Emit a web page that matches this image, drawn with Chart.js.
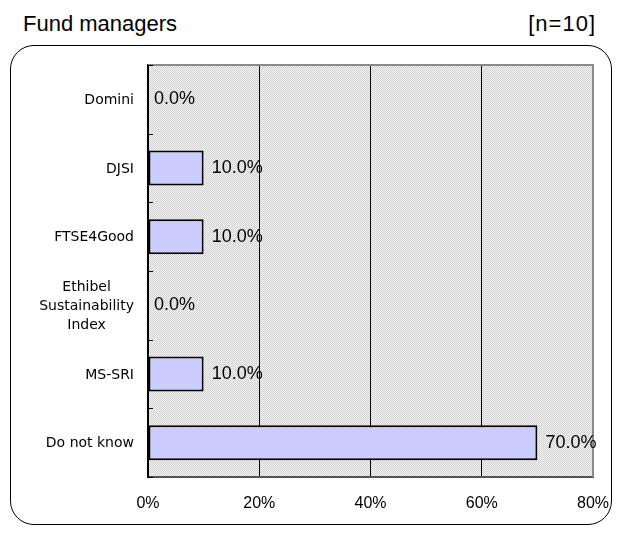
<!DOCTYPE html>
<html><head><meta charset="utf-8">
<script src="https://cdn.jsdelivr.net/npm/chart.js@4/dist/chart.umd.min.js"></script>
<style>
html,body{margin:0;padding:0;background:#fff;}
#wrap{position:relative;width:620px;height:534px;overflow:hidden;font-family:"Liberation Sans",Arial,sans-serif;}
#title{position:absolute;left:23px;top:11px;font-size:22px;color:#000;}
#n{position:absolute;right:24px;top:11px;font-size:22px;color:#000;letter-spacing:1px;}
#frame{position:absolute;left:10px;top:45px;width:600px;height:478px;border:1.5px solid #000;border-radius:24px;}
#c{position:absolute;left:0;top:0;}
</style></head>
<body>
<div id="wrap">
<div id="title">Fund managers</div>
<div id="n">[n=10]</div>
<div id="frame"></div>
<canvas id="c" width="620" height="534"></canvas>
</div>
<script>
const categories = ["Domini", "DJSI", "FTSE4Good", ["Ethibel", "Sustainability", "Index"], "MS-SRI", "Do not know"];
const values = [0, 10, 10, 0, 10, 70];
const xTicks = [0, 20, 40, 60, 80];

const LABEL_FONT = '14px "DejaVu Sans", sans-serif';

function makePattern(ctx){
  const p = document.createElement('canvas');
  p.width = 2; p.height = 2;
  const g = p.getContext('2d');
  g.fillStyle = '#f2f2f2'; g.fillRect(0,0,2,2);
  g.fillStyle = '#d2d2d2'; g.fillRect(0,0,1,1); g.fillRect(1,1,1,1);
  return ctx.createPattern(p,'repeat');
}

const bgPlugin = {
  id:'bg',
  beforeDraw(chart){
    const {ctx, chartArea:a} = chart;
    ctx.save();
    ctx.fillStyle = makePattern(ctx);
    ctx.fillRect(a.left, a.top, a.right-a.left, a.bottom-a.top);
    ctx.restore();
  },
  afterDatasetsDraw(chart){
    const {ctx, chartArea:a, scales} = chart;
    ctx.save();
    ctx.strokeStyle = '#8a8a8a'; ctx.lineWidth = 2;
    ctx.beginPath();
    ctx.moveTo(a.left, a.top); ctx.lineTo(a.right, a.top); ctx.lineTo(a.right, a.bottom);
    ctx.stroke();
    const y = scales.y;
    ctx.strokeStyle = '#000'; ctx.lineWidth = 1;
    for (let i = 0; i <= categories.length; i++){
      const py = Math.round(y.getPixelForValue(i - 0.5)) + 0.5;
      ctx.beginPath(); ctx.moveTo(a.left, py); ctx.lineTo(a.left + 5, py); ctx.stroke();
    }
    ctx.fillStyle = '#000';
    ctx.font = LABEL_FONT;
    ctx.textBaseline = 'middle';
    const rightEdge = a.left - 14;
    const lh = 19;
    categories.forEach((lab, i) => {
      const lines = Array.isArray(lab) ? lab : [lab];
      const cy = y.getPixelForValue(i) + 1;
      if (lines.length === 1){
        ctx.textAlign = 'right';
        ctx.fillText(lines[0], rightEdge, cy);
      } else {
        const maxW = Math.max(...lines.map(l => ctx.measureText(l).width));
        const cx = rightEdge - maxW/2;
        ctx.textAlign = 'center';
        lines.forEach((l, k) => ctx.fillText(l, cx, cy + (k - (lines.length-1)/2) * lh));
      }
    });
    const meta = chart.getDatasetMeta(0);
    ctx.font = '18px "Liberation Sans", Arial, sans-serif';
    ctx.textAlign = 'left';
    meta.data.forEach((bar, i) => {
      const x = values[i] === 0 ? a.left + 6 : bar.x + 8;
      ctx.fillText(values[i].toFixed(1) + '%', x, bar.y);
    });
    ctx.restore();
  }
};

new Chart(document.getElementById('c'), {
  type:'bar',
  data:{
    labels: categories,
    datasets:[{
      data: values,
      backgroundColor:'#ccccff',
      borderColor:'#000',
      borderWidth:2,
      borderSkipped:false,
      barPercentage:0.51,
      categoryPercentage:1.0
    }]
  },
  options:{
    indexAxis:'y',
    responsive:false,
    animation:false,
    devicePixelRatio:1,
    layout:{padding:{top:65,right:27,left:0,bottom:0}},
    plugins:{legend:{display:false}, tooltip:{enabled:false}},
    scales:{
      x:{
        min:0, max:80,
        afterBuildTicks(s){ s.ticks = xTicks.map(v => ({value:v})); },
        afterFit(s){ s.height = 57; s.paddingLeft = 0; s.paddingRight = 0; },
        grid:{color:'#000', lineWidth:1, drawTicks:false, z:0},
        border:{color:'#555', width:2},
        ticks:{padding:17, color:'#000', font:{size:16, family:'"Liberation Sans", Arial, sans-serif'}, callback:v => v + '%'}
      },
      y:{
        afterFit(s){ s.width = 148; },
        grid:{display:false, drawTicks:false},
        border:{color:'#000', width:1.5},
        ticks:{display:false}
      }
    }
  },
  plugins:[bgPlugin]
});
</script>
</body></html>
